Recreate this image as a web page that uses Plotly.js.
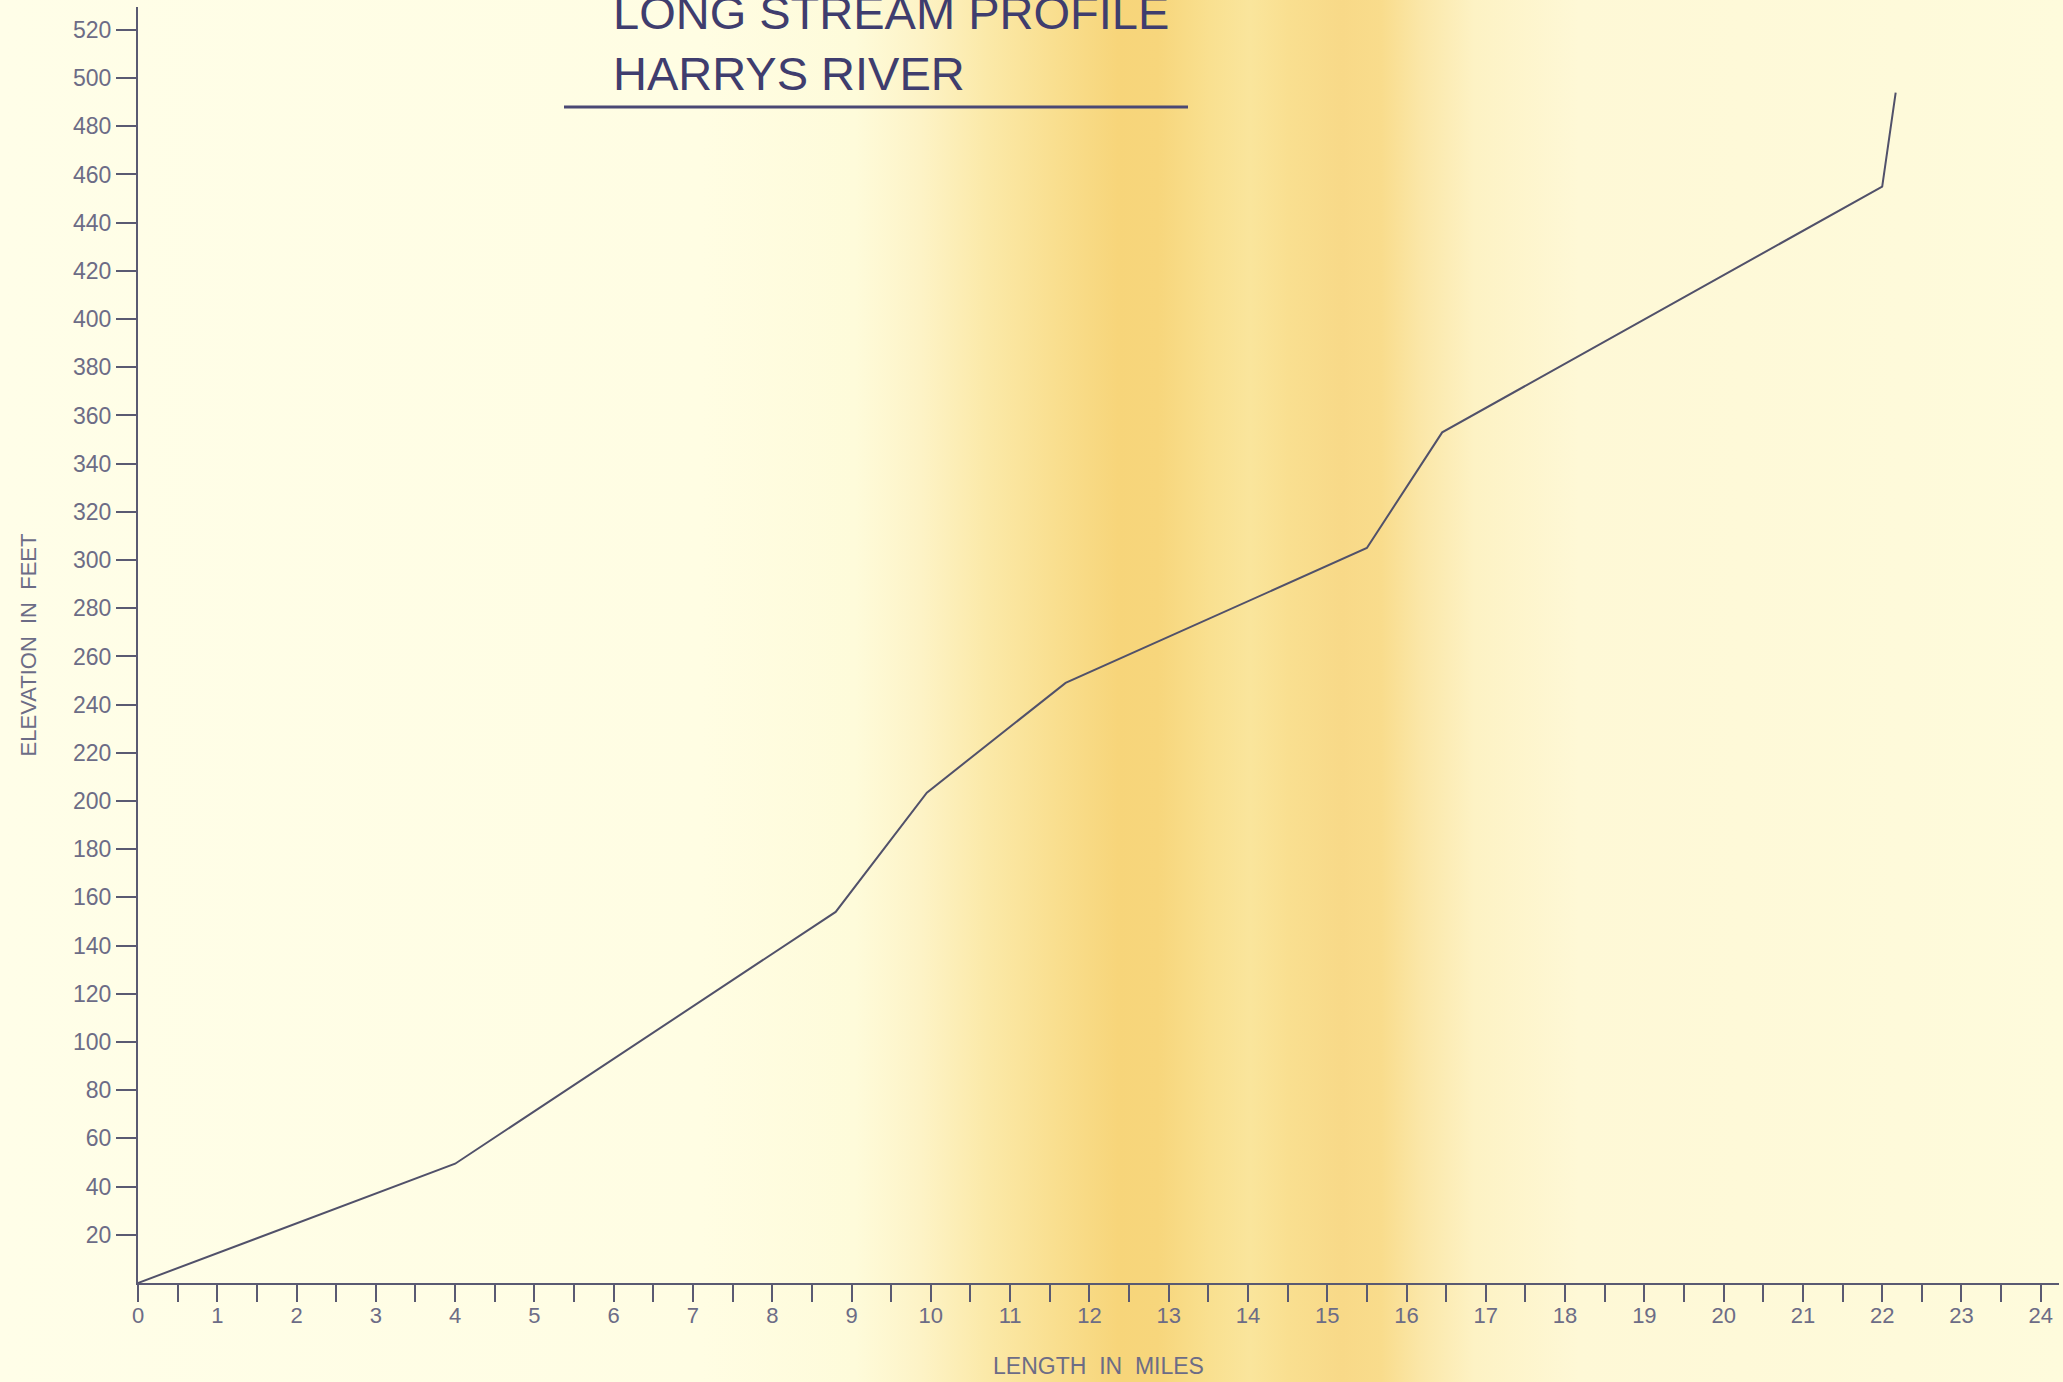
<!DOCTYPE html>
<html>
<head>
<meta charset="utf-8">
<script src="https://cdn.plot.ly/plotly-3.0.1.min.js"></script>
<style>
  html, body { margin: 0; padding: 0; }
  body {
    width: 2063px; height: 1382px; overflow: hidden;
    background: linear-gradient(to right,
      #fffee8 0px, #fffde3 700px, #fefbda 855px, #fdf3c6 921px, #fbe9a8 987px,
      #f9df90 1053px, #f7d57a 1118px, #f7d67c 1158px, #f9e090 1210px,
      #fae59c 1250px, #f9df90 1289px, #f8d988 1342px, #f9dc8c 1381px,
      #fbe7a8 1421px, #fdf2c4 1474px, #fef8d6 1579px, #fefbdc 2063px);
  }
  #chart { width: 2063px; height: 1382px; }
</style>
</head>
<body>
<div id="chart"></div>
<script>
// Harrys River long stream profile
const lengthMiles = [0, 4.0, 8.8, 9.95, 11.7, 15.5, 16.45, 22.0, 22.17];
const elevationFeet = [0, 49.5, 154, 203.5, 249, 305, 353, 455, 494];

const xTickVals = [0,1,2,3,4,5,6,7,8,9,10,11,12,13,14,15,16,17,18,19,20,21,22,23,24];
const xTickText = ["0","1","2","3","4","5","6","7","8","9","10","11","12","13","14","15","16","17","18","19","20","21","22","23","24"];
const xMinorVals = [0.5,1.5,2.5,3.5,4.5,5.5,6.5,7.5,8.5,9.5,10.5,11.5,12.5,13.5,14.5,15.5,16.5,17.5,18.5,19.5,20.5,21.5,22.5,23.5];
const yTickVals = [20,40,60,80,100,120,140,160,180,200,220,240,260,280,300,320,340,360,380,400,420,440,460,480,500,520];
const yTickText = ["20","40","60","80","100","120","140","160","180","200","220","240","260","280","300","320","340","360","380","400","420","440","460","480","500","520"];

const axisColor = "#5a5a72";
const labelColor = "#6c6c86";

const trace = {
  x: lengthMiles,
  y: elevationFeet,
  type: "scatter",
  mode: "lines",
  line: { color: "#51516a", width: 2 },
  hoverinfo: "x+y",
  showlegend: false
};

const layout = {
  width: 2063,
  height: 1382,
  paper_bgcolor: "rgba(0,0,0,0)",
  plot_bgcolor: "rgba(0,0,0,0)",
  margin: { l: 138, r: 4, t: 7, b: 99 },
  showlegend: false,
  font: { family: "Liberation Sans, Arial, sans-serif", color: labelColor },
  title: {
    text: "LONG STREAM PROFILE<br>HARRYS RIVER",
    font: { family: "Liberation Sans, Arial, sans-serif", size: 47, color: "#3f3d6e" },
    xref: "container", x: 613 / 2063, xanchor: "left",
    yref: "container", y: 1 - 29 / 1382, yanchor: "middle",
    pad: { t: 0, b: 0, l: 0, r: 0 }
  },
  xaxis: {
    range: [0, 24.23],
    showline: true, linecolor: axisColor, linewidth: 2,
    showgrid: false, zeroline: false,
    ticks: "outside", ticklen: 17, tickwidth: 2, tickcolor: axisColor,
    tickmode: "array", tickvals: xTickVals, ticktext: xTickText,
    ticklabelstandoff: -5,
    tickfont: { family: "Liberation Sans, Arial, sans-serif", size: 22, color: labelColor },
    minor: { tickmode: "array", tickvals: xMinorVals, ticks: "outside", ticklen: 17, tickwidth: 2, tickcolor: axisColor, showgrid: false },
    title: {
      text: "LENGTH  IN  MILES",
      font: { family: "Liberation Sans, Arial, sans-serif", size: 23, color: labelColor },
      standoff: 30
    },
    automargin: false,
    fixedrange: true
  },
  yaxis: {
    range: [0, 529.5],
    showline: true, linecolor: axisColor, linewidth: 2,
    showgrid: false, zeroline: false,
    ticks: "outside", ticklen: 20, tickwidth: 2, tickcolor: axisColor,
    tickmode: "array", tickvals: yTickVals, ticktext: yTickText,
    ticklabelstandoff: 0,
    tickfont: { family: "Liberation Sans, Arial, sans-serif", size: 23, color: labelColor },
    title: {
      text: "ELEVATION  IN  FEET",
      font: { family: "Liberation Sans, Arial, sans-serif", size: 22, color: labelColor },
      standoff: 30
    },
    automargin: false,
    fixedrange: true
  },
  shapes: [
    {
      type: "line", xref: "paper", yref: "paper",
      x0: (564 - 138) / 1921, x1: (1188 - 138) / 1921,
      y0: (1283 - 107) / 1276, y1: (1283 - 107) / 1276,
      line: { color: "#4a4874", width: 3 }
    }
  ]
};

Plotly.newPlot("chart", [trace], layout, { displayModeBar: false });
</script>
</body>
</html>
